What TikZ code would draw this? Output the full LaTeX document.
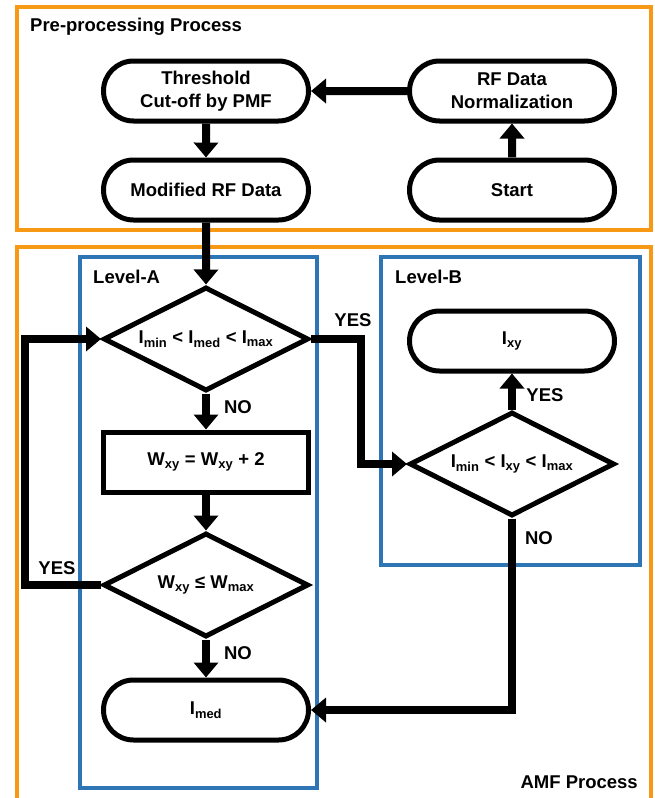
\documentclass[tikz,border=0pt]{standalone}
\usepackage{fontspec}
\setmainfont{Liberation Sans}
\usetikzlibrary{arrows.meta,shapes.geometric,shapes.misc}
\definecolor{amforange}{RGB}{247,153,20}
\definecolor{levelblue}{RGB}{46,117,182}
\tikzset {
	term/.style={rounded rectangle, draw, line width=5pt, minimum width=205pt, minimum height=60pt, inner sep=0pt, align=center},
	proc/.style={rectangle, draw, line width=5pt, minimum width=205pt, minimum height=60pt, inner sep=0pt},
	decision/.style={diamond, draw, line width=5pt, minimum width=205pt, minimum height=104pt, inner sep=0pt, aspect=1.9},
	flow/.style={line width=8pt, -{Triangle[width=24pt,length=15pt]}},
	stage/.style={draw=amforange, line width=4.5pt},
	level/.style={draw=levelblue, line width=4pt},
	caption/.style={inner sep=0pt},
	answer/.style={inner sep=0pt}
}
\begin{document}
\begin{tikzpicture}[x=1pt, y=-1pt, font=\fontsize{18.5}{23}\selectfont\bfseries]
	\useasboundingbox (0,0) rectangle (655,798);
	% frames
	\draw[stage] (17,7) rectangle (651,230);
	\draw[stage] (17,247) rectangle (651,806);
	\draw[level] (80,257) rectangle (317,788);
	\draw[level] (381,257) rectangle (640,565);
	\node[caption, anchor=west] at (30,27) {Pre-processing Process};
	\node[caption, anchor=west] at (93,277) {Level-A};
	\node[caption, anchor=west] at (395,277) {Level-B};
	\node[caption, anchor=east] at (638,782) {AMF Process};
	% pre-processing
	\node[term] (thresh) at (206,91) {Threshold\\Cut-off by PMF};
	\node[term] (norm) at (512,91) {RF Data\\Normalization};
	\node[term] (modrf) at (206,190) {Modified RF Data};
	\node[term] (start) at (512,190) {Start};
	% level A
	\node[decision] (range) at (206,339) {I\textsubscript{min} < I\textsubscript{med} < I\textsubscript{max}};
	\node[proc] (grow) at (206,462) {W\textsubscript{xy} = W\textsubscript{xy} + 2};
	\node[decision] (wmax) at (206,585) {W\textsubscript{xy} ≤ W\textsubscript{max}};
	\node[term] (imed) at (206,710) {I\textsubscript{med}};
	% level B
	\node[term] (ixy) at (512,341) {I\textsubscript{xy}};
	\node[decision] (ixyrange) at (512,464) {I\textsubscript{min} < I\textsubscript{xy} < I\textsubscript{max}};
	% connectors
	\draw[flow] (start) -- (norm);
	\draw[flow] (norm) -- (thresh);
	\draw[flow] (thresh) -- (modrf);
	\draw[flow] (modrf) -- (range);
	\draw[flow] (range) -- (grow);
	\draw[flow] (grow) -- (wmax);
	\draw[flow] (wmax) -- (imed);
	\draw[flow] (wmax.west) -- ++(-76,0) |- (range.west);
	\draw[flow] (range.east) -- ++(50,0) |- (ixyrange.west);
	\draw[flow] (ixyrange) -- (ixy);
	\draw[flow] (ixyrange.south) |- (imed.east);
	% answers
	\node[answer] at (353,320) {YES};
	\node[answer] at (545,395) {YES};
	\node[answer] at (57,568) {YES};
	\node[answer] at (238,407) {NO};
	\node[answer] at (238,653) {NO};
	\node[answer] at (539,538) {NO};
\end{tikzpicture}
\end{document}
